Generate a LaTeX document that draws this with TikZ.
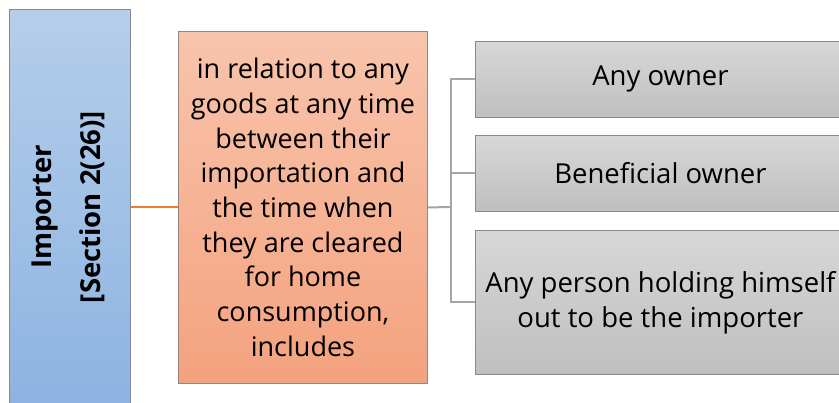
\documentclass[tikz,border=0pt]{standalone}
\usepackage{fontspec}
\setmainfont{Open Sans}
\definecolor{bluetop}{HTML}{B5CEEA}
\definecolor{bluebot}{HTML}{8DB3E2}
\definecolor{ortop}{HTML}{F8C4AC}
\definecolor{orbot}{HTML}{F4A27E}
\definecolor{graytop}{HTML}{D7D7D7}
\definecolor{graybot}{HTML}{BFBFBF}
\definecolor{boxedge}{HTML}{8A8A8A}
\definecolor{orline}{HTML}{ED7D31}
\definecolor{grline}{HTML}{A5A5A5}
\tikzset{
  boxbase/.style={draw=boxedge, line width=0.9pt, inner sep=0pt, anchor=north west},
  bluebox/.style={boxbase, top color=bluetop, bottom color=bluebot},
  orbox/.style={boxbase, top color=ortop, bottom color=orbot, align=center,
    font=\fontsize{27}{34.7}\selectfont},
  graybox/.style={boxbase, top color=graytop, bottom color=graybot, align=center,
    font=\fontsize{27.5}{35}\selectfont},
  bluetext/.style={rotate=90, align=center, font=\fontsize{27.5}{49}\selectfont\bfseries},
  orconn/.style={draw=orline, line width=2pt},
  grconn/.style={draw=grline, line width=2pt}
}
\begin{document}
\begin{tikzpicture}[x=1pt,y=-1pt]
\useasboundingbox (0,0) rectangle (839,403);
\begin{scope}
\clip (0,0) rectangle (839,403);
\node[bluebox, minimum width=121pt, minimum height=396pt] (imp) at (9,9) {};
\node[bluetext] (implabel) at (68,207) {Importer\\{}[Section 2(26)]};
\node[orbox, minimum width=249pt, minimum height=352pt] (def) at (178,31)
  {in relation to any\\goods at any time\\between their\\importation and\\the time when\\they are cleared\\for home\\consumption,\\includes};
\node[graybox, minimum width=370pt, minimum height=76pt] (o1) at (475,41) {Any owner};
\node[graybox, minimum width=370pt, minimum height=76pt] (o2) at (475,135) {Beneficial owner};
\node[graybox, minimum width=370pt, minimum height=144pt] (o3) at (475,230)
  {Any person holding himself\\out to be the importer};
\coordinate (j) at (451,207);
\draw[orconn] (imp.east) -- (def.west);
\draw[grconn] (def.east) -- (j);
\draw[grconn] (j) |- (o1.west);
\draw[grconn] (j) |- (o2.west);
\draw[grconn] (j) |- (o3.west);
\end{scope}
\end{tikzpicture}
\end{document}
